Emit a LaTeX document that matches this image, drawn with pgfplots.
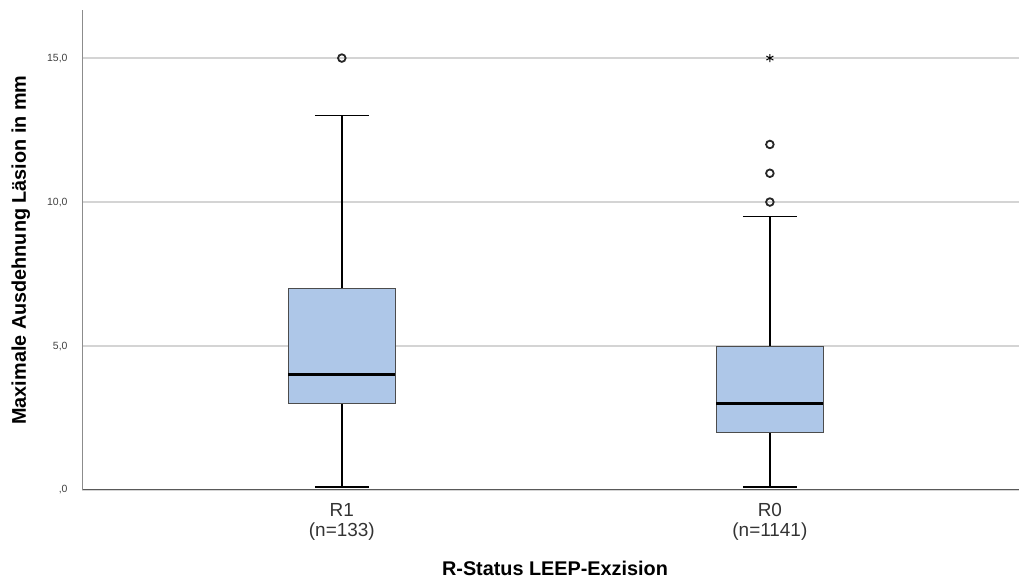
\documentclass[border=0pt]{standalone}
\usepackage{pgfplots}
\pgfplotsset{compat=1.18}
\usepgfplotslibrary{statistics}
\usepackage{fontspec}
\setmainfont{Liberation Sans}
\definecolor{boxblue}{RGB}{174,199,232}
\definecolor{gridgray}{RGB}{212,212,212}

\begin{document}
\begin{tikzpicture}[x=1bp,y=1bp]
\useasboundingbox (0,0) rectangle (1019,580);
\begin{axis}[
  at={(82bp,90bp)}, anchor=south west,
  scale only axis, width=937bp, height=480bp,
  xmin=0.393, xmax=2.582, ymin=0, ymax=16.67,
  axis x line=bottom, axis y line=left,
  axis line style={-},
  x axis line style={draw=black!65, line width=1bp},
  y axis line style={draw=black!45, line width=1bp},
  xtick={1,2},
  xticklabels={{R1\\(n=133)},{R0\\(n=1141)}},
  x tick label style={align=center, font=\fontsize{19}{20}\selectfont, text=black!80, yshift=-10bp},
  ytick={0,5,10,15},
  yticklabels={{,0},{5,0},{10,0},{15,0}},
  y tick label style={font=\fontsize{10.5}{12}\selectfont, text=black!75, xshift=-11bp},
  /pgf/number format/assume math mode=true,
  major tick length=0pt,
  ymajorgrids, grid style={gridgray, line width=1.2bp},
  xlabel={R-Status LEEP-Exzision},
  ylabel={Maximale Ausdehnung Läsion in mm},
  label style={font=\bfseries\fontsize{19.9}{22}\selectfont},
  xlabel style={at={(axis description cs:0.5048,-0.179)}, anchor=base},
  ylabel style={at={(axis description cs:-0.0598,0.5)}, anchor=base, rotate=0},
  boxplot/draw direction=y,
  boxplot/every box/.style={draw=black!70, fill=boxblue, line width=0.8bp},
  boxplot/every whisker/.style={black, line width=1.6bp},
  boxplot/every median/.style={black, line width=3bp},
]
% R1
\addplot[boxplot prepared={draw position=1,
  lower whisker=0.1, lower quartile=3, median=4,
  upper quartile=7, upper whisker=13,
  box extend=0.25, whisker extend=0.126}] coordinates {};
% R0
\addplot[boxplot prepared={draw position=2,
  lower whisker=0.1, lower quartile=2, median=3,
  upper quartile=5, upper whisker=9.5,
  box extend=0.25, whisker extend=0.126}] coordinates {};
% outliers
\addplot[only marks, mark=o, mark size=3.8bp,
  mark options={line width=1.8bp, draw=black!85, fill=white}]
  coordinates {(1,15) (2,10) (2,11) (2,12)};
% extreme value
\addplot[only marks, mark=asterisk, mark size=4bp,
  mark options={line width=1bp, draw=black}]
  coordinates {(2,15)};
\end{axis}
\end{tikzpicture}
\end{document}
